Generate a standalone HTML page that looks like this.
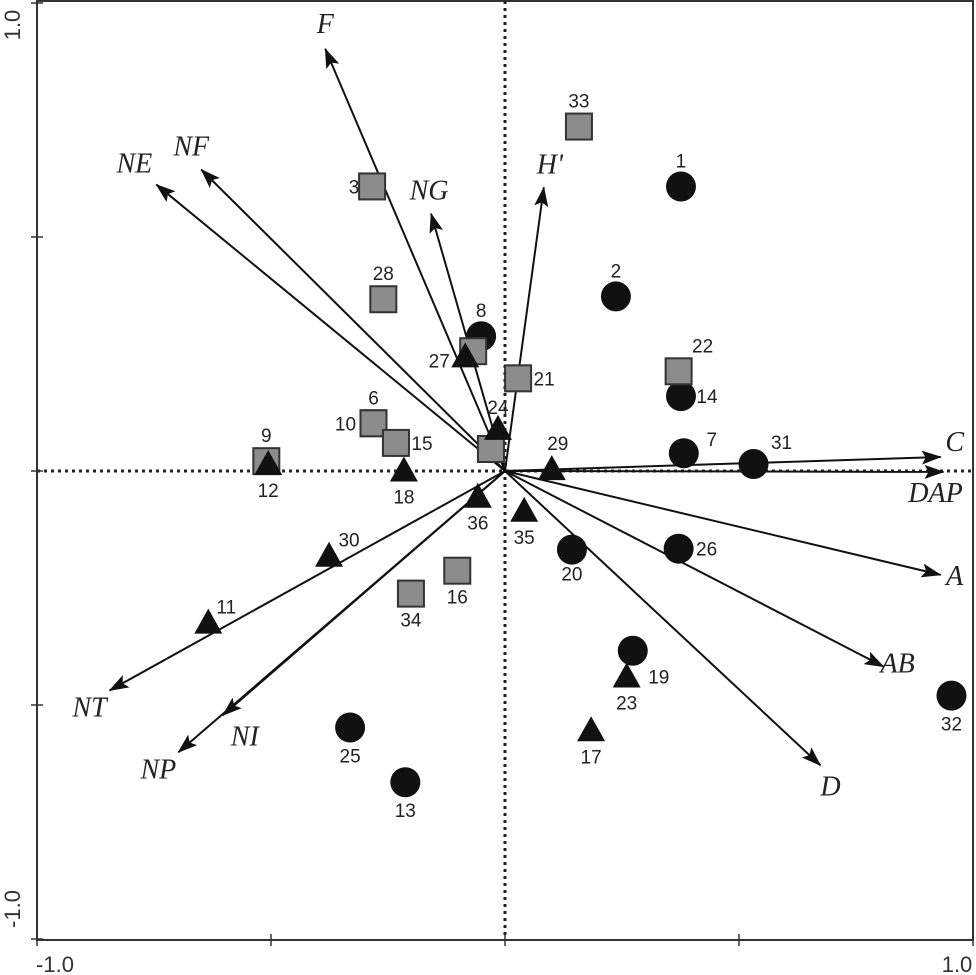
<!DOCTYPE html>
<html><head><meta charset="utf-8"><style>
html,body{margin:0;padding:0;background:#fff}
svg{display:block}
.num{font-family:"Liberation Sans",sans-serif;font-size:19px;fill:#222}
.var{font-family:"Liberation Serif",serif;font-style:italic;font-size:28px;fill:#222}
.tick{font-family:"Liberation Sans",sans-serif;font-size:22px;fill:#333}
</style></head><body>
<svg id="chart" width="976" height="975" viewBox="0 0 976 975" xmlns="http://www.w3.org/2000/svg">
<defs><marker id="ah" markerWidth="20" markerHeight="14" refX="19" refY="7" orient="auto" markerUnits="userSpaceOnUse"><path d="M0,0 L20,7 L0,14 L4,7 Z" fill="#111"/></marker></defs>
<g id="frame"></g><g id="arrows"></g><g id="pts"></g>
</svg>
<script>
const ticks=[-1,-0.5,0,0.5,1];
const varNames=["F","NF","NE","NG","H'","C","DAP","A","AB","D","NT","NI","NP"];
const varX=[-0.384,-0.649,-0.745,-0.158,0.083,0.931,0.937,0.931,0.809,0.674,-0.845,-0.603,-0.698];
const varY=[0.902,0.644,0.612,0.550,0.606,0.030,-0.002,-0.222,-0.418,-0.629,-0.469,-0.522,-0.601];
const varLabDX=[0,-10,-22,-2,6,14,-8,14,14,10,-20,22,-20];
const varLabDY=[-16,-14,-12,-14,-14,-6,30,10,6,30,26,30,26];
const siteIds=["1","2","8","14","7","31","20","26","19","32","25","13","33","3","28","","21","22","6","10","15","9","","16","34","12","18","27","24","29","36","35","30","11","23","17"];
const siteType=["c","c","c","c","c","c","c","c","c","c","c","c","s","s","s","s","s","s","s","s","s","s","s","s","s","t","t","t","t","t","t","t","t","t","t","t"];
const siteX=[0.376,0.237,-0.051,0.376,0.382,0.531,0.143,0.371,0.273,0.954,-0.331,-0.213,0.158,-0.284,-0.260,-0.068,0.028,0.371,-0.281,-0.281,-0.233,-0.510,-0.030,-0.102,-0.201,-0.506,-0.216,-0.085,-0.015,0.100,-0.058,0.041,-0.376,-0.634,0.260,0.184];
const siteY=[0.608,0.373,0.288,0.160,0.038,0.015,-0.168,-0.166,-0.384,-0.480,-0.548,-0.665,0.736,0.608,0.367,0.256,0.198,0.213,0.102,0.102,0.060,0.021,0.047,-0.213,-0.262,0.015,0.001,0.245,0.090,0.004,-0.055,-0.085,-0.181,-0.324,-0.439,-0.554];
const labDX=[0,0,0,26,28,28,0,28,26,0,0,0,0,-18,0,0,26,24,0,-28,26,0,0,0,0,0,0,-26,0,6,0,0,20,18,0,0];
const labDY=[-26,-26,-26,0,-14,-22,24,0,26,28,28,28,-26,0,-26,0,0,-26,-26,0,0,-26,0,26,26,26,26,4,-22,-26,26,26,-16,-16,26,26];
const ox=505,oy=471,sc=468;
const X=v=>ox+v*sc, Y=v=>oy-v*sc;
const NS="http://www.w3.org/2000/svg";
function mk(tag,attrs,parent,txt){const e=document.createElementNS(NS,tag);for(const k in attrs)e.setAttribute(k,attrs[k]);if(txt!==undefined)e.textContent=txt;parent.appendChild(e);return e;}
const fr=document.getElementById('frame');
let e;
e=mk('rect',{x:37,y:1,width:936,height:939,fill:'none',stroke:'#333','stroke-width':2},fr);


e=mk('line',{x1:37,y1:oy,x2:973,y2:oy,stroke:'#222','stroke-width':3,'stroke-dasharray':'3,4'},fr);


e=mk('line',{x1:ox,y1:1,x2:ox,y2:940,stroke:'#222','stroke-width':3,'stroke-dasharray':'3,4'},fr);


ticks.forEach(t=>{
 e=mk('line',{x1:X(t),y1:934,x2:X(t),y2:946,stroke:'#333','stroke-width':1.5},fr);
 
 
 e=mk('line',{x1:31,y1:Y(t),x2:43,y2:Y(t),stroke:'#333','stroke-width':1.5},fr);
 
 
});
e=mk('text',{x:X(-1)+18,y:972,'text-anchor':'middle',class:'tick'},fr,'-1.0');


e=mk('text',{x:X(1)-16,y:972,'text-anchor':'middle',class:'tick'},fr,'1.0');


e=mk('text',{x:0,y:0,'text-anchor':'middle',class:'tick',transform:`translate(20,${Y(1)+22}) rotate(-90)`},fr,'1.0');


e=mk('text',{x:0,y:0,'text-anchor':'middle',class:'tick',transform:`translate(20,${Y(-1)-30}) rotate(-90)`},fr,'-1.0');


const ar=document.getElementById('arrows');
varNames.forEach((n,i)=>{
 e=mk('line',{x1:ox,y1:oy,x2:X(varX[i]),y2:Y(varY[i]),stroke:'#111','stroke-width':2,'marker-end':'url(#ah)'},ar);
 
 
 e=mk('text',{x:X(varX[i])+varLabDX[i],y:Y(varY[i])+varLabDY[i],'text-anchor':'middle',class:'var'},ar,n);
 
 
});
const pg=document.getElementById('pts');
siteIds.forEach((id,i)=>{
 const cx=X(siteX[i]),cy=Y(siteY[i]),t=siteType[i];
 if(t==='c'){e=mk('circle',{cx:cx,cy:cy,r:15,fill:'#111'},pg);}
 else if(t==='s'){e=mk('rect',{x:cx-13,y:cy-13,width:26,height:26,fill:'#8c8c8c',stroke:'#333','stroke-width':2},pg);}
 else {e=mk('polygon',{points:`${cx},${cy-14} ${cx+14},${cy+11} ${cx-14},${cy+11}`,fill:'#111'},pg);}
 
 
 if(id!==''){
  e=mk('text',{x:cx+labDX[i],y:cy+labDY[i]+7,'text-anchor':'middle',class:'num'},pg,id);
  
  
 }
});
</script>
</body></html>
